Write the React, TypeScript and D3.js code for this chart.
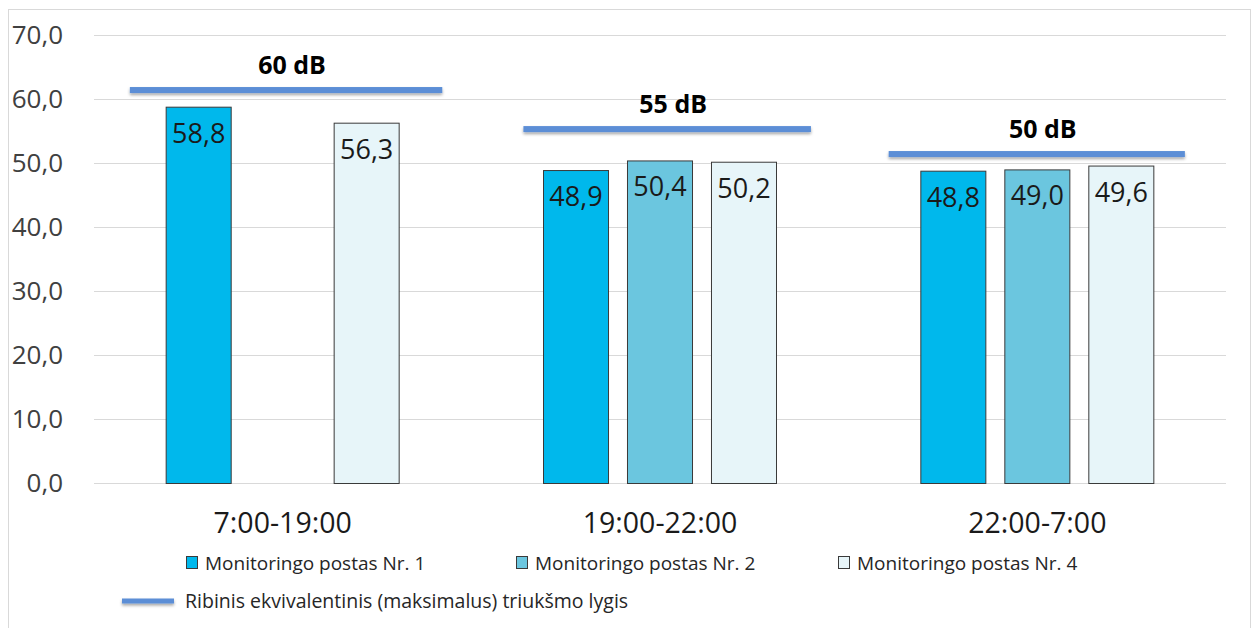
import React from "react";
import * as d3 from "d3";

const categories = ["7:00-19:00", "19:00-22:00", "22:00-7:00"];
const seriesNames = ["Monitoringo postas Nr. 1", "Monitoringo postas Nr. 2", "Monitoringo postas Nr. 4"];
const post1 = [58.8, 48.9, 48.8];
const post2 = [null, 50.4, 49.0];
const post4 = [56.3, 50.2, 49.6];
const limitLabels = ["60 dB", "55 dB", "50 dB"];
const limitLineLevels = [61.4, 55.3, 51.4];
const lineStartFrac = [0.095, 0.138, 0.106];
const lineEndFrac = [0.923, 0.9, 0.891];
const yTicks = [0, 10, 20, 30, 40, 50, 60, 70];
const lineLegend = "Ribinis ekvivalentinis (maksimalus) triukšmo lygis";

const colors = ["#00B8EC", "#6BC6DF", "#E7F5F9"];
const FONT = "'Open Sans', sans-serif";

export default function App() {
  const W = 1254, H = 628;
  const left = 94, right = 1226, top = 35, bottom = 483;
  const y = d3.scaleLinear().domain([0, 70]).range([bottom, top]);
  const x0 = d3.scaleBand<string>().domain(categories).range([left, right]).padding(0);
  const groupW = 234;
  const x1 = d3.scaleBand<string>().domain(seriesNames).range([0, groupW]).paddingInner(0.214).paddingOuter(0);
  const seriesData = [post1, post2, post4];
  const fmt = (v: number) => v.toFixed(1).replace(".", ",");

  return (
    <div style={{ position: "absolute", left: 0, top: 0 }}>
      <svg width={W} height={H} style={{ display: "block", fontFamily: FONT }}>
        <defs>
          <filter id="sh" x="-5%" y="-100%" width="110%" height="400%">
            <feDropShadow dx="0" dy="2" stdDeviation="1.5" floodColor="#000" floodOpacity="0.35" />
          </filter>
        </defs>
        <rect x={0} y={0} width={W} height={H} fill="#fff" />
        <rect x={8.5} y={9.5} width={1242} height={640} fill="none" stroke="#D9D9D9" />
        {yTicks.map((t) => (
          <g key={t}>
            <line x1={left} x2={right} y1={y(t) + 0.5} y2={y(t) + 0.5} stroke="#D9D9D9" strokeWidth={1} />
            <text x={63} y={y(t)} dy="0.35em" textAnchor="end" fontSize={26} fill="#404040">
              {fmt(t)}
            </text>
          </g>
        ))}
        {categories.map((c, ci) => {
          const gx = (x0(c) as number) + (x0.bandwidth() - groupW) / 2;
          return (
            <g key={c}>
              {seriesNames.map((s, si) => {
                const v = seriesData[si][ci];
                if (v == null) return null;
                const bx = gx + (x1(s) as number);
                const bw = x1.bandwidth();
                return (
                  <g key={s}>
                    <rect x={bx + 0.5} y={y(v) + 0.5} width={bw - 1} height={bottom - y(v)} fill={colors[si]} stroke="#3A3A3A" strokeWidth={1} />
                    <text x={bx + bw / 2} y={y(v) + 36} textAnchor="middle" fontSize={27} fill="#1A1A1A">
                      {fmt(v)}
                    </text>
                  </g>
                );
              })}
              <text x={(x0(c) as number) + x0.bandwidth() / 2} y={533} textAnchor="middle" fontSize={28.5} fill="#1A1A1A">
                {c}
              </text>
            </g>
          );
        })}
        {categories.map((c, ci) => {
          const bx = x0(c) as number;
          const bw = x0.bandwidth();
          const xs = bx + bw * lineStartFrac[ci];
          const xe = bx + bw * lineEndFrac[ci];
          const ly = y(limitLineLevels[ci]);
          return (
            <g key={"l" + c}>
              <rect x={xs} y={ly - 3} width={xe - xs} height={6} fill="#5B8ED6" filter="url(#sh)" />
              <text x={(xs + xe) / 2 + 6} y={ly - 16} textAnchor="middle" fontSize={25} fontWeight="bold" fill="#000">
                {limitLabels[ci]}
              </text>
            </g>
          );
        })}
        {seriesNames.map((s, si) => {
          const lx = [186, 516, 838][si];
          return (
            <g key={"lg" + s}>
              <rect x={lx + 0.5} y={556.5} width={11} height={12} fill={colors[si]} stroke="#3A3A3A" />
              <text x={lx + 19} y={563} dy="0.35em" fontSize={19} fill="#262626">
                {s}
              </text>
            </g>
          );
        })}
        <rect x={122} y={598.5} width={52} height={5} fill="#5B8ED6" filter="url(#sh)" />
        <text x={185} y={601} dy="0.35em" fontSize={19.5} fill="#262626">
          {lineLegend}
        </text>
      </svg>
    </div>
  );
}
